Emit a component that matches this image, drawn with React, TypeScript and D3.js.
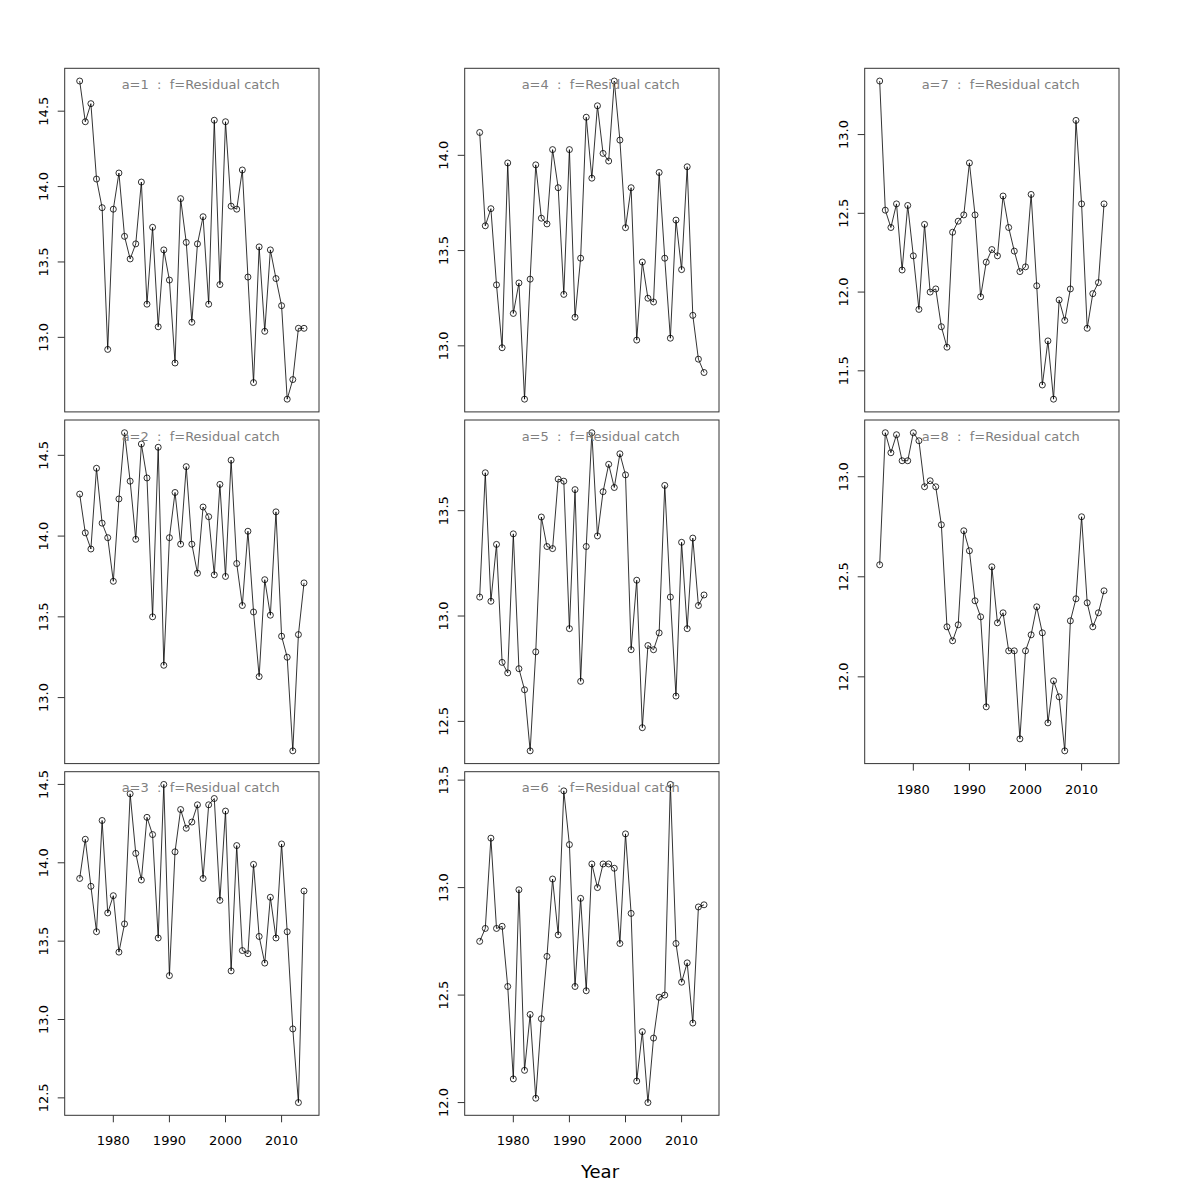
import React from 'react';
import * as d3 from 'd3';

const years = [1974, 1975, 1976, 1977, 1978, 1979, 1980, 1981, 1982, 1983, 1984, 1985, 1986, 1987, 1988, 1989, 1990, 1991, 1992, 1993, 1994, 1995, 1996, 1997, 1998, 1999, 2000, 2001, 2002, 2003, 2004, 2005, 2006, 2007, 2008, 2009, 2010, 2011, 2012, 2013, 2014];

const a1 = [14.70, 14.43, 14.55, 14.05, 13.86, 12.92, 13.85, 14.09, 13.67, 13.52, 13.62, 14.03, 13.22, 13.73, 13.07, 13.58, 13.38, 12.83, 13.92, 13.63, 13.10, 13.62, 13.80, 13.22, 14.44, 13.35, 14.43, 13.87, 13.85, 14.11, 13.40, 12.70, 13.60, 13.04, 13.58, 13.39, 13.21, 12.59, 12.72, 13.06, 13.06];
const a2 = [14.26, 14.02, 13.92, 14.42, 14.08, 13.99, 13.72, 14.23, 14.64, 14.34, 13.98, 14.57, 14.36, 13.50, 14.55, 13.20, 13.99, 14.27, 13.95, 14.43, 13.95, 13.77, 14.18, 14.12, 13.76, 14.32, 13.75, 14.47, 13.83, 13.57, 14.03, 13.53, 13.13, 13.73, 13.51, 14.15, 13.38, 13.25, 12.67, 13.39, 13.71];
const a3 = [13.90, 14.15, 13.85, 13.56, 14.27, 13.68, 13.79, 13.43, 13.61, 14.44, 14.06, 13.89, 14.29, 14.18, 13.52, 14.50, 13.28, 14.07, 14.34, 14.22, 14.26, 14.37, 13.90, 14.37, 14.41, 13.76, 14.33, 13.31, 14.11, 13.44, 13.42, 13.99, 13.53, 13.36, 13.78, 13.52, 14.12, 13.56, 12.94, 12.47, 13.82];
const a4 = [14.12, 13.63, 13.72, 13.32, 12.99, 13.96, 13.17, 13.33, 12.72, 13.35, 13.95, 13.67, 13.64, 14.03, 13.83, 13.27, 14.03, 13.15, 13.46, 14.20, 13.88, 14.26, 14.01, 13.97, 14.39, 14.08, 13.62, 13.83, 13.03, 13.44, 13.25, 13.23, 13.91, 13.46, 13.04, 13.66, 13.40, 13.94, 13.16, 12.93, 12.86];
const a5 = [13.09, 13.68, 13.07, 13.34, 12.78, 12.73, 13.39, 12.75, 12.65, 12.36, 12.83, 13.47, 13.33, 13.32, 13.65, 13.64, 12.94, 13.60, 12.69, 13.33, 13.87, 13.38, 13.59, 13.72, 13.61, 13.77, 13.67, 12.84, 13.17, 12.47, 12.86, 12.84, 12.92, 13.62, 13.09, 12.62, 13.35, 12.94, 13.37, 13.05, 13.10];
const a6 = [12.75, 12.81, 13.23, 12.81, 12.82, 12.54, 12.11, 12.99, 12.15, 12.41, 12.02, 12.39, 12.68, 13.04, 12.78, 13.45, 13.20, 12.54, 12.95, 12.52, 13.11, 13.00, 13.11, 13.11, 13.09, 12.74, 13.25, 12.88, 12.10, 12.33, 12.00, 12.30, 12.49, 12.50, 13.48, 12.74, 12.56, 12.65, 12.37, 12.91, 12.92];
const a7 = [13.34, 12.52, 12.41, 12.56, 12.14, 12.55, 12.23, 11.89, 12.43, 12.00, 12.02, 11.78, 11.65, 12.38, 12.45, 12.49, 12.82, 12.49, 11.97, 12.19, 12.27, 12.23, 12.61, 12.41, 12.26, 12.13, 12.16, 12.62, 12.04, 11.41, 11.69, 11.32, 11.95, 11.82, 12.02, 13.09, 12.56, 11.77, 11.99, 12.06, 12.56];
const a8 = [12.56, 13.22, 13.12, 13.21, 13.08, 13.08, 13.22, 13.18, 12.95, 12.98, 12.95, 12.76, 12.25, 12.18, 12.26, 12.73, 12.63, 12.38, 12.30, 11.85, 12.55, 12.27, 12.32, 12.13, 12.13, 11.69, 12.13, 12.21, 12.35, 12.22, 11.77, 11.98, 11.90, 11.63, 12.28, 12.39, 12.80, 12.37, 12.25, 12.32, 12.43];

const xTicks = [1980, 1990, 2000, 2010];
const xLabel = 'Year';
const titleSuffix = '  :  f=Residual catch';

const panels = [
  { name: 'a=1', values: a1, col: 0, row: 0, xAxis: false },
  { name: 'a=2', values: a2, col: 0, row: 1, xAxis: false },
  { name: 'a=3', values: a3, col: 0, row: 2, xAxis: true },
  { name: 'a=4', values: a4, col: 1, row: 0, xAxis: false },
  { name: 'a=5', values: a5, col: 1, row: 1, xAxis: false },
  { name: 'a=6', values: a6, col: 1, row: 2, xAxis: true },
  { name: 'a=7', values: a7, col: 2, row: 0, xAxis: false },
  { name: 'a=8', values: a8, col: 2, row: 1, xAxis: true },
];

const colLeft = [64.7, 464.7, 864.7];
const rowTop = [68.3, 420, 771.7];
const pw = 254.3;
const ph = 343.6;
const FONT = 'DejaVu Sans, Liberation Sans, sans-serif';

function Panel({ p }: { p: typeof panels[number] }) {
  const left = colLeft[p.col];
  const top = rowTop[p.row];
  const x = d3.scaleLinear().domain([1971.33, 2016.67]).range([left, left + pw]);
  const [lo, hi] = d3.extent(p.values) as [number, number];
  const pad = (hi - lo) * 0.04;
  const y = d3.scaleLinear().domain([lo - pad, hi + pad]).range([top + ph, top]);
  const yTicks = d3.range(Math.ceil((lo - pad) * 2) / 2, hi + pad + 1e-9, 0.5);
  const line = d3.line<number>().x((_, i) => x(years[i])).y((d) => y(d));
  return (
    <g>
      <path d={line(p.values) || ''} fill="none" stroke="#000" strokeWidth={0.8} />
      {p.values.map((v, i) => (
        <circle key={i} cx={x(years[i])} cy={y(v)} r={3} fill="none" stroke="#000" strokeWidth={0.8} />
      ))}
      <rect x={left} y={top} width={pw} height={ph} fill="none" stroke="#333" strokeWidth={1} />
      {yTicks.map((t) => (
        <g key={t}>
          <line x1={left - 7} x2={left} y1={y(t)} y2={y(t)} stroke="#333" strokeWidth={1} />
          <text
            transform={`translate(${left - 17},${y(t)}) rotate(-90)`}
            textAnchor="middle"
            fontSize={13}
            fontFamily={FONT}
            fill="#000"
          >
            {d3.format('.1f')(t)}
          </text>
        </g>
      ))}
      {p.xAxis &&
        xTicks.map((t) => (
          <g key={t}>
            <line x1={x(t)} x2={x(t)} y1={top + ph} y2={top + ph + 7} stroke="#333" strokeWidth={1} />
            <text x={x(t)} y={top + ph + 30} textAnchor="middle" fontSize={13} fontFamily={FONT} fill="#000">
              {t}
            </text>
          </g>
        ))}
      <text
        x={left + 136}
        y={top + 20.5}
        textAnchor="middle"
        fontSize={13}
        fontFamily={FONT}
        fill="#808080"
        style={{ whiteSpace: 'pre' }}
        xmlSpace="preserve"
      >
        {p.name + titleSuffix}
      </text>
    </g>
  );
}

export default function App() {
  return (
    <svg
      width={1200}
      height={1200}
      style={{ position: 'absolute', left: 0, top: 0, background: '#fff' }}
    >
      <rect x={0} y={0} width={1200} height={1200} fill="#fff" />
      {panels.map((p) => (
        <Panel key={p.name} p={p} />
      ))}
      <text x={600} y={1178} textAnchor="middle" fontSize={18} fontFamily={FONT} fill="#000">
        {xLabel}
      </text>
    </svg>
  );
}
